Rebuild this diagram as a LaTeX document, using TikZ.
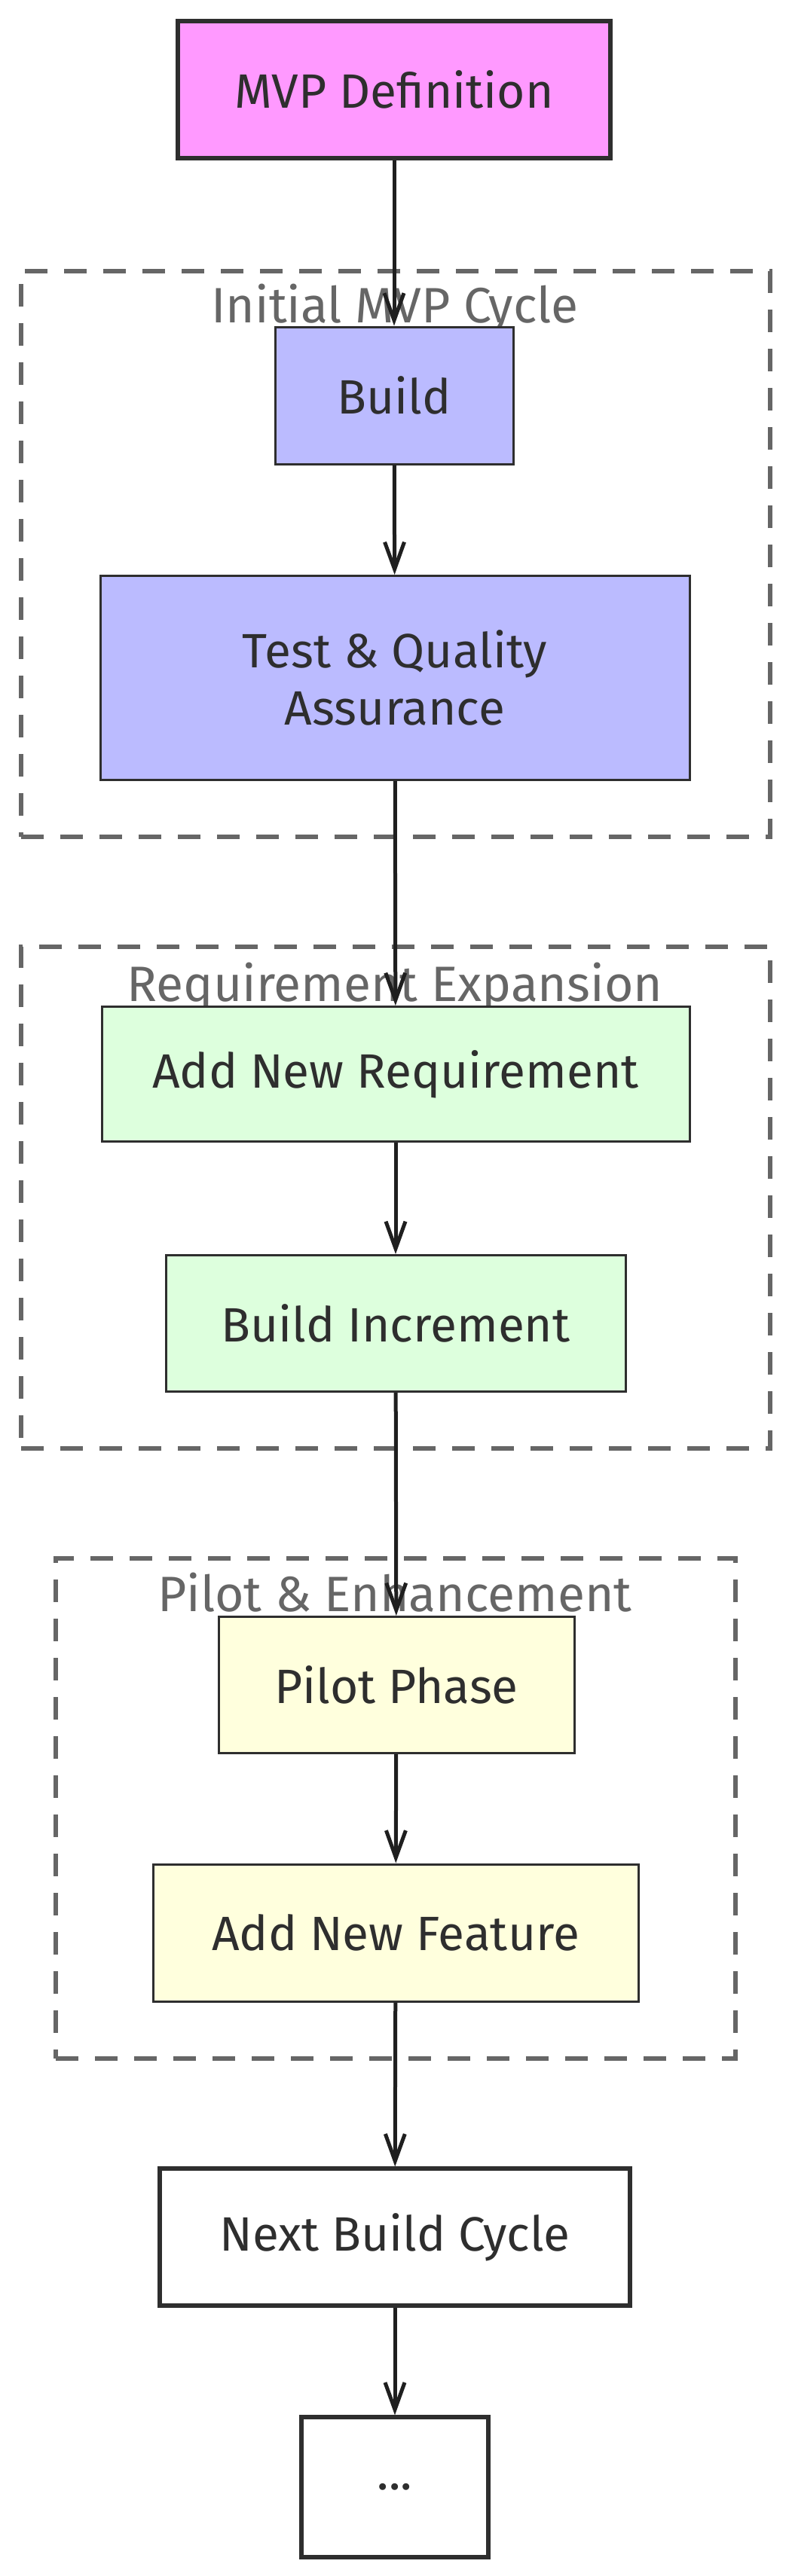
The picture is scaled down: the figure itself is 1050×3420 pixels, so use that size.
\documentclass[tikz,border=0pt]{standalone}
\usepackage{fontspec}
\setmainfont{Fira Sans}
\usepackage{tikz}
\definecolor{mvppink}{HTML}{FF99FF}
\definecolor{cycleblue}{HTML}{BBBBFF}
\definecolor{reqgreen}{HTML}{DDFFDD}
\definecolor{pilotyellow}{HTML}{FFFFDD}
\definecolor{inkdark}{HTML}{2E2E2E}
\definecolor{framegray}{HTML}{666666}
\tikzset{basic/.style={draw=inkdark,text=inkdark,rectangle,align=center,
                       inner sep=0pt,font=\fontsize{32}{38}\selectfont}}
\tikzset{heavy/.style={basic,line width=2.6pt}}
\tikzset{light/.style={basic,line width=1.5pt}}
\tikzset{frame/.style={draw=framegray,line width=3pt,
                       dash pattern=on 15pt off 11pt,inner sep=0pt}}
\tikzset{frametitle/.style={text=framegray,anchor=base,
                            font=\fontsize{33}{38}\selectfont}}
\tikzset{flow/.style={draw=black!88,line width=2.5pt,
                      -{Straight Barb[length=18pt,width=13pt]}}}
\usetikzlibrary{arrows.meta}
\usetikzlibrary{positioning}

\begin{document}
\begin{tikzpicture}[x=0.5pt,y=-0.5pt]
    \useasboundingbox (0,0) rectangle (1050,3420);
    % Draw dashed group frames
    \node[frame, minimum width=497pt, minimum height=375.5pt] (cycle) at (525,735.5) {};
    \node[frame, minimum width=497pt, minimum height=333pt] (expansion) at (525,1590) {};
    \node[frame, minimum width=451pt, minimum height=332pt] (pilotgrp) at (525,2401) {};
    % Frame titles
    \node[frametitle] (cycle_title) at (524,428) {Initial MVP Cycle};
    \node[frametitle] (expansion_title) at (524,1329) {Requirement Expansion};
    \node[frametitle] (pilot_title) at (524,2139) {Pilot \& Enhancement};
    % Draw process boxes
    \node[heavy, fill=mvppink, minimum width=287pt, minimum height=91pt] (mvp) at (523,119) {MVP Definition};
    \node[light, fill=cycleblue, minimum width=158pt, minimum height=91pt] (build) at (523,525) {Build};
    \node[light, fill=cycleblue, minimum width=391pt, minimum height=135.5pt] (test) at (524,900) {Test \& Quality\\Assurance};
    \node[light, fill=reqgreen, minimum width=390pt, minimum height=89.5pt] (addreq) at (525,1426) {Add New Requirement};
    \node[light, fill=reqgreen, minimum width=305pt, minimum height=90.5pt] (buildinc) at (525,1757) {Build Increment};
    \node[light, fill=pilotyellow, minimum width=236pt, minimum height=90.5pt] (pilot) at (526,2237) {Pilot Phase};
    \node[light, fill=pilotyellow, minimum width=322pt, minimum height=91pt] (addfeat) at (525,2566) {Add New Feature};
    \node[heavy, fill=white, minimum width=312pt, minimum height=91pt] (nextcycle) at (524,2970) {Next Build Cycle};
    \node[heavy, fill=white, minimum width=124pt, minimum height=93pt] (more) at (524,3302) {...};
    % Connect the boxes top to bottom
    \foreach \a/\b in {mvp/build,build/test,test/addreq,addreq/buildinc,
                       buildinc/pilot,pilot/addfeat,addfeat/nextcycle,nextcycle/more}{%
        \draw[flow] (\a) -- (\b);
      }
\end{tikzpicture}
\end{document}
